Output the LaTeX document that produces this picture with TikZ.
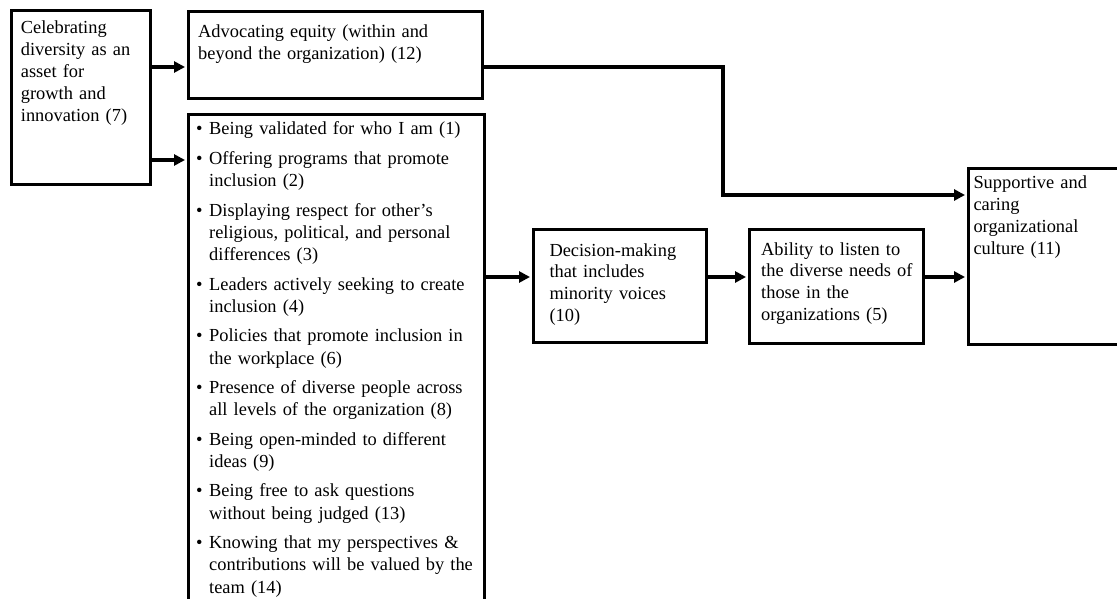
\documentclass[tikz,border=0pt]{standalone}
\usepackage{fontspec}
\setmainfont{Liberation Serif}
\usetikzlibrary{arrows.meta}

% one bulleted entry with a hanging indent; lines are broken by \newline
\newcommand\bulletentry[1]{\noindent\hangindent=13pt\hangafter=1%
  \makebox[13pt][l]{\textbullet}#1\par\vspace{7pt}}

\tikzset{
  frame/.style={draw, line width=2.6pt, inner sep=0pt, anchor=north west},
  txt/.style={anchor=base west, inner sep=0pt, align=left, text width=#1,
    font=\fontsize{18.4}{21.8}\selectfont},
  tip/.tip={Triangle[length=11pt,width=11pt]},
  link/.style={line width=4.2pt, -tip, shorten >=2pt}
}

\begin{document}
\begin{tikzpicture}[x=1pt,y=-1pt]
\useasboundingbox (0,0) rectangle (1117,599);

\begin{scope}
\clip (0,0) rectangle (1117,599);
% boxes
\node[frame, minimum width=139pt, minimum height=174pt] (b7) at (10,9) {};
\node[frame, minimum width=294pt, minimum height=87pt] (b12) at (187,10) {};
\node[frame, minimum width=296pt, minimum height=512pt] (bl) at (187,113) {};
\node[frame, minimum width=173pt, minimum height=113pt] (b10) at (532,228) {};
\node[frame, minimum width=174pt, minimum height=114pt] (b5) at (748,228) {};
\node[frame, minimum width=170pt, minimum height=176pt] (b11) at (967,167) {};
\end{scope}

% box texts
\node[txt=130pt] (t7) at (20.7,34) {Celebrating\\diversity as an\\asset for\\growth and\\innovation (7)};
\node[txt=280pt] (t12) at (198,38) {Advocating equity (within and\\beyond the organization) (12)};
\node[txt=165pt] (t10) at (549.3,256) {Decision-making\\that includes\\minority voices\\(10)};
\node[txt=165pt] (t5) at (761,255) {Ability to listen to\\the diverse needs of\\those in the\\organizations (5)};
\node[txt=140pt] (t11) at (973.3,189) {Supportive and\\caring\\organizational\\culture (11)};

\node[txt=285pt, font=\fontsize{18.4}{22.35}\selectfont] (tl) at (196,135) {%
\bulletentry{Being validated for who I am (1)}%
\bulletentry{Offering programs that promote\newline inclusion (2)}%
\bulletentry{Displaying respect for other’s\newline religious, political, and personal\newline differences (3)}%
\bulletentry{Leaders actively seeking to create\newline inclusion (4)}%
\bulletentry{Policies that promote inclusion in\newline the workplace (6)}%
\bulletentry{Presence of diverse people across\newline all levels of the organization (8)}%
\bulletentry{Being open-minded to different\newline ideas (9)}%
\bulletentry{Being free to ask questions\newline without being judged (13)}%
\bulletentry{Knowing that my perspectives \&\newline contributions will be valued by the\newline team (14)}};

% connector levels
\coordinate (ya) at (0,67);
\coordinate (yb) at (0,160);
\coordinate (yc) at (0,195);
\coordinate (yd) at (0,277);
\coordinate (xb) at (723,0);

% connectors
\draw[link] (b7.east |- ya) -- (b12.west |- ya);
\draw[link] (b7.east |- yb) -- (bl.west |- yb);
\draw[link] (b12.east |- ya) -| (xb |- yc) -- (b11.west |- yc);
\draw[link] (bl.east |- yd) -- (b10.west |- yd);
\draw[link] (b10.east |- yd) -- (b5.west |- yd);
\draw[link] (b5.east |- yd) -- (b11.west |- yd);
\end{tikzpicture}
\end{document}
